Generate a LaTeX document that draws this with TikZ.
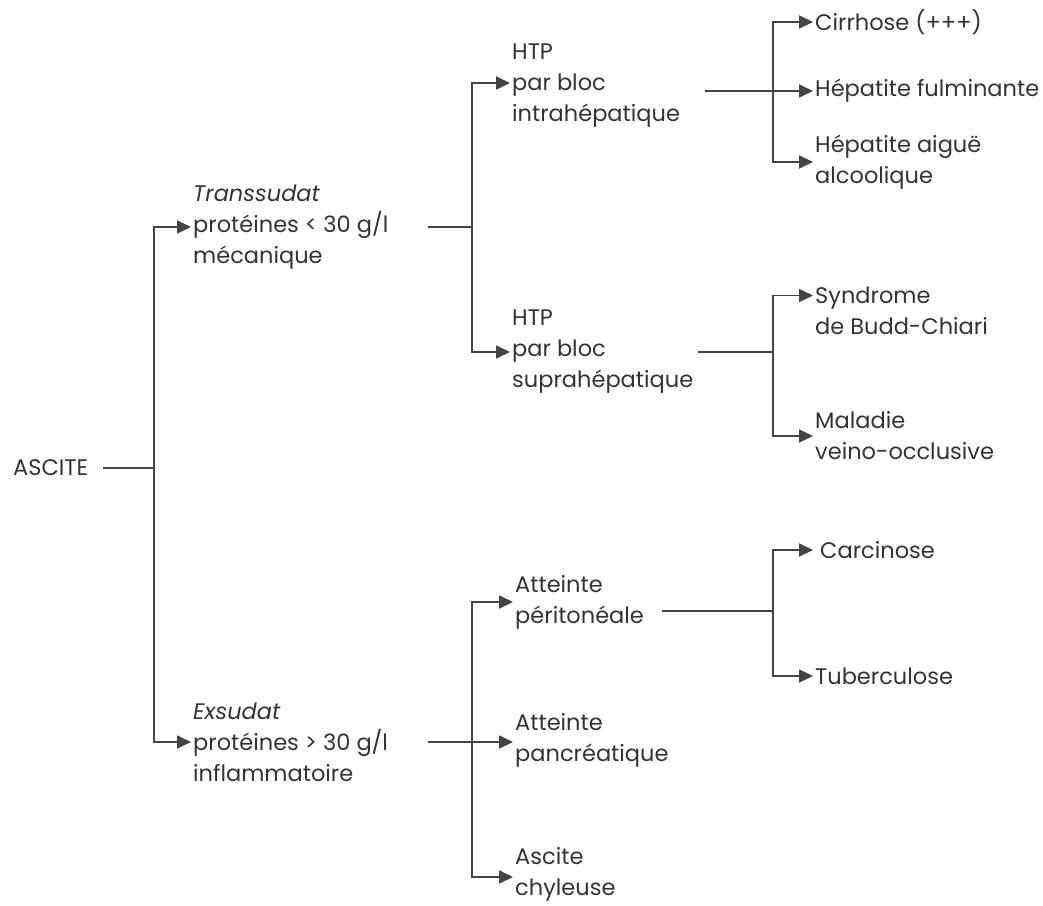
\documentclass[tikz,border=0pt]{standalone}
\usepackage{fontspec}
\setmainfont{Poppins}
\usetikzlibrary{arrows.meta}
\definecolor{textgray}{HTML}{333333}
\definecolor{linegray}{HTML}{444444}
\begin{document}
\begin{tikzpicture}[x=1pt,y=-1pt,
  txt/.style={anchor=west,inner sep=0pt,align=left,text=textgray,font=\fontsize{22.5}{31}\selectfont},
  ln/.style={draw=linegray,line width=1.8pt},
  arr/.style={ln,-{Triangle[length=14pt,width=13pt]}}]
\useasboundingbox (0,0) rectangle (1043,905);
% nodes
\node[txt] (ascite) at (13,468) {ASCITE};
\node[txt] (trans) at (193,227) {\textit{Transsudat}\\protéines < 30 g/l\\mécanique};
\node[txt] (exs) at (193,742) {\textit{Exsudat}\\protéines > 30 g/l\\inflammatoire};
\node[txt] (htp1) at (512,86) {HTP\\par bloc\\intrahépatique};
\node[txt] (htp2) at (512,352) {HTP\\par bloc\\suprahépatique};
\node[txt] (att1) at (515,602) {Atteinte\\péritonéale};
\node[txt] (att2) at (515,740) {Atteinte\\pancréatique};
\node[txt] (asc) at (515,874) {Ascite\\chyleuse};
\node[txt] (cirr) at (815,22) {Cirrhose (+++)};
\node[txt] (hful) at (815,91) {Hépatite fulminante};
\node[txt] (haig) at (815,162) {Hépatite aiguë\\alcoolique};
\node[txt] (budd) at (815,311) {Syndrome\\de Budd-Chiari};
\node[txt] (mal) at (815,436) {Maladie\\veino-occlusive};
\node[txt] (carc) at (820,550) {Carcinose};
\node[txt] (tub) at (815,676) {Tuberculose};
% junctions and line starts
\coordinate (jA) at (154,468);
\coordinate (jB) at (472,227);
\coordinate (jC) at (773,91);
\coordinate (jD) at (773,352);
\coordinate (jE) at (472,742);
\coordinate (jF) at (773,611);
\coordinate (sA) at (103,468);
\coordinate (sB) at (428,227);
\coordinate (sC) at (705,91);
\coordinate (sD) at (698,352);
\coordinate (sE) at (428,742);
\coordinate (sF) at (662,611);
% connectors
\draw[ln] (sA) -- (jA);
\draw[arr] (jA) |- ([xshift=-2pt]trans.west);
\draw[arr] (jA) |- ([xshift=-2pt]exs.west);
\draw[ln] (sB) -- (jB);
\draw[arr] (jB) |- ([xshift=-2pt,yshift=3pt]htp1.west);
\draw[arr] (jB) |- ([xshift=-2pt]htp2.west);
\draw[arr] (sC) -- ([xshift=-2pt]hful.west);
\draw[arr] (jC) |- ([xshift=-2pt]cirr.west);
\draw[arr] (jC) |- ([xshift=-2pt]haig.west);
\draw[ln] (sD) -- (jD);
\draw[arr] (jD) |- ([xshift=-2pt,yshift=15.5pt]budd.west);
\draw[arr] (jD) |- ([xshift=-2pt]mal.west);
\draw[arr] (sE) -- ([xshift=-2pt]att2.west |- sE);
\draw[arr] (jE) |- ([xshift=-2pt]att1.west);
\draw[arr] (jE) |- ([xshift=-2pt,yshift=-3pt]asc.west);
\draw[ln] (sF) -- (jF);
\draw[arr] (jF) |- ([xshift=-7pt]carc.west);
\draw[arr] (jF) |- ([xshift=-2pt]tub.west);
\end{tikzpicture}
\end{document}
